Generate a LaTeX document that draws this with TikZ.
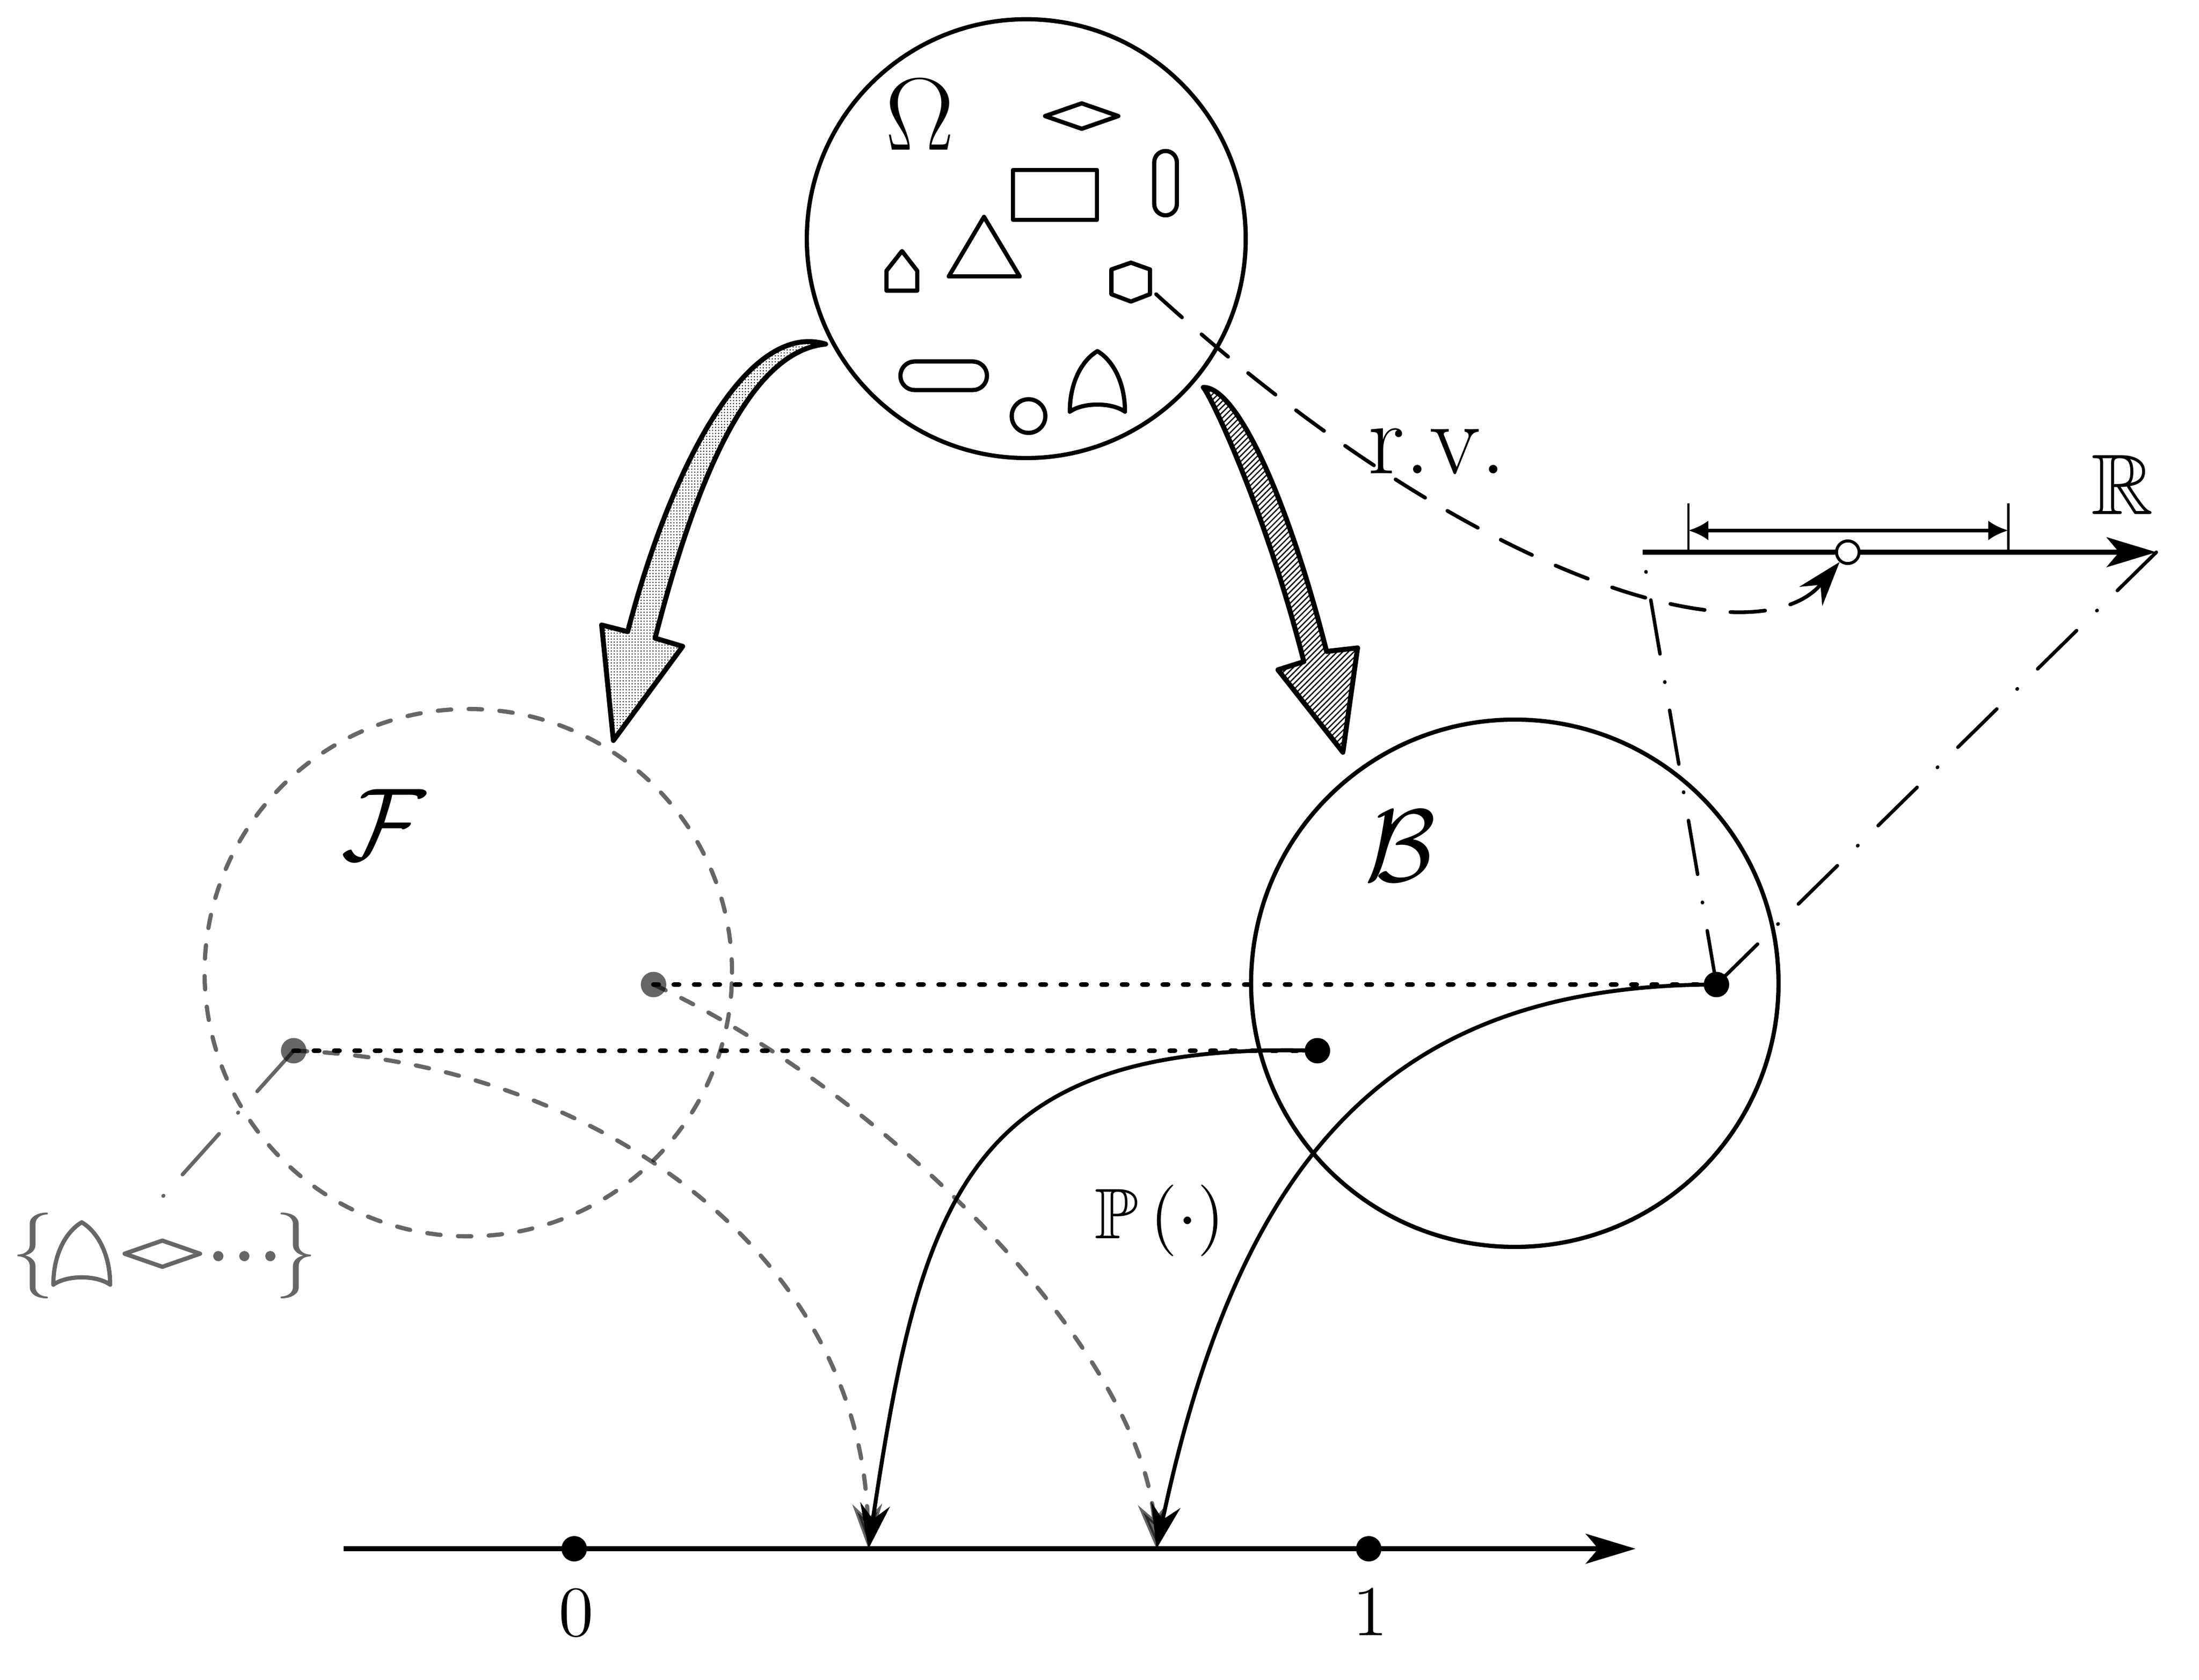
\documentclass[tikz,border=0pt]{standalone}
\usepackage{amssymb}
\usetikzlibrary{arrows.meta,patterns.meta,calc}

\tikzset{
  ptdot/.style={circle,fill,inner sep=0pt,minimum size=0.18cm},
  grayed/.style={opacity=0.6},
  shp/.style={line width=0.85pt,line join=round},
  dotline/.style={line width=1pt,line cap=round,dash pattern=on 1pt off 3.1pt},
  gdash/.style={grayed,line width=0.85pt,line cap=round,dash pattern=on 2.7pt off 3.5pt},
  rvline/.style={line width=0.75pt,line cap=round,dash pattern=on 7pt off 5.2pt},
  projline/.style={line width=0.7pt,line cap=round,dash pattern=on 11pt off 5.7pt on 0.1pt off 5.7pt},
  axisline/.style={line width=1pt,-{Stealth[length=10pt,width=6pt,inset=2.5pt]}},
  pmap/.style={line width=0.8pt,-{Stealth[length=9pt,width=6pt,inset=3pt]}},
  bigarrow/.style={line width=1pt,line join=round},
  arch/.pic={\draw (-0.195,0) .. controls (-0.195,0.22) and (-0.1,0.37) .. (0,0.428)
      .. controls (0.1,0.37) and (0.195,0.22) .. (0.195,0)
      .. controls (0.1,0.067) and (-0.1,0.067) .. (-0.195,0) -- cycle;},
  rhomb/.pic={\draw (-0.259,0) -- (0,0.09) -- (0.259,0) -- (0,-0.09) -- cycle;}
}

\begin{document}
\begin{tikzpicture}
  \useasboundingbox (0,0) rectangle (15.552,11.88);

  % sample space
  \node[draw,circle,shp,minimum size=3.104cm] (Om) at (7.258,10.192) {};
  \node (lOm) at (6.504,11.07) {\huge $\Omega$};
  \pic[shp] at (7.650,11.059) {rhomb};
  \draw[shp] (7.164,10.325) rectangle (7.758,10.678);
  \draw[shp,rounded corners=0.08cm] (8.163,10.357) rectangle (8.323,10.812);
  \draw[shp] (6.710,9.925) -- (6.959,10.346) -- (7.211,9.925) -- cycle;
  \draw[shp] (6.269,9.824) -- (6.269,9.964) -- (6.379,10.104) -- (6.487,9.964) -- (6.487,9.824) -- cycle;
  \draw[shp] (7.860,9.799) -- (7.860,9.974) -- (7.998,10.022) -- (8.133,9.974) -- (8.133,9.799) -- (7.998,9.747) -- cycle;
  \draw[shp,rounded corners=0.1cm] (6.368,9.121) rectangle (6.980,9.323);
  \draw[shp] (7.274,8.937) circle (0.119);
  \pic[shp] at (7.761,8.968) {arch};

  % sigma algebras
  \node[draw,circle,gdash,minimum size=3.73cm] (Fsig) at (3.312,5.000) {};
  \node (lF) at (2.713,6.046) {\huge $\mathcal{F}$};
  \node[draw,circle,shp,minimum size=3.73cm] (Bsig) at (10.713,4.925) {};
  \node (lB) at (9.904,5.897) {\huge $\mathcal{B}$};

  % the two thick arrows
  \draw[bigarrow,pattern={Dots[distance=0.6pt,radius=0.13pt]}] (5.839,9.446)
    .. controls (5.292,9.612) and (4.752,8.604) .. (4.439,7.412) -- (4.255,7.459) -- (4.338,6.642)
    -- (4.828,7.308) -- (4.633,7.366) .. controls (4.914,8.460) and (5.292,9.396) .. (5.839,9.446) -- cycle;
  \draw[bigarrow,pattern={Lines[angle=45,distance=0.8pt,line width=0.25pt]}] (8.510,9.140)
    .. controls (8.748,9.144) and (9.108,8.352) .. (9.382,7.272) -- (9.601,7.297) -- (9.497,6.559)
    -- (9.038,7.142) -- (9.221,7.200) .. controls (8.946,8.280) and (8.568,9.072) .. (8.510,9.140) -- cycle;

  % events
  \node[ptdot,grayed] (Fr) at (4.622,4.916) {};
  \node[ptdot,grayed] (Fl) at (2.077,4.448) {};
  \node[ptdot] (Bl) at (9.317,4.448) {};
  \node[ptdot] (Br) at (12.139,4.916) {};

  % unit interval
  \coordinate (o1) at (2.430,0.925);
  \coordinate (o2) at (11.567,0.925);
  \draw[axisline] (o1) -- (o2);
  \node[ptdot] (d0) at (4.061,0.925) {};
  \node[ptdot] (d1) at (9.680,0.925) {};
  \node (l0) at (4.075,0.472) {\Large 0};
  \node (l1) at (9.690,0.479) {\Large 1};
  \coordinate (p1) at (6.142,0.925);
  \coordinate (p2) at (8.179,0.925);

  \draw[pmap,gdash] (Fl.center) .. controls (4.140,4.374) and (6.084,3.060) .. (p1);
  \draw[pmap,gdash] (Fr.center) .. controls (6.253,4.158) and (8.064,2.340) .. (p2);
  \draw[dotline] (Fr.center) -- (Br.center);
  \draw[dotline] (Fl.center) -- (Bl.center);
  \draw[pmap] (Bl.center) .. controls (6.840,4.518) and (6.516,3.420) .. (p1);
  \draw[pmap] (Br.center) .. controls (9.900,4.914) and (8.784,3.780) .. (p2);
  \node (lP) at (8.201,3.247) {\Large $\mathbb{P}\left(\cdot\right)$};

  % real line
  \coordinate (r1) at (11.617,7.974);
  \coordinate (r2) at (15.250,7.974);
  \draw[axisline] (r1) -- (r2);
  \node (lR) at (15.008,8.453) {\LARGE $\mathbb{R}$};
  \coordinate (ia) at (11.941,7.974);
  \coordinate (ib) at (14.202,7.974);
  \draw[line width=0.5pt] (ia) -- ++(0,0.346);
  \draw[line width=0.5pt] (ib) -- ++(0,0.346);
  \draw[line width=0.7pt,{Latex[length=4pt,width=4pt]}-{Latex[length=4pt,width=4pt]}] ($(ia)+(0,0.154)$) -- ($(ib)+(0,0.154)$);
  \node[circle,draw,fill=white,line width=0.6pt,inner sep=0pt,minimum size=0.16cm] (om) at (13.068,7.974) {};

  \coordinate (hx) at (8.176,9.799);
  \draw[rvline,-{Stealth[length=9pt,width=6pt,inset=3pt]}] (hx) .. controls (10.440,7.740) and (12.420,7.200) .. (om);
  \node (lrv) at (10.163,8.687) {\huge r.v.};
  \draw[projline] (Br.center) -- (r1);
  \draw[projline] (r2) -- (Br.center);

  % an element of F
  \coordinate (setF) at (1.148,3.413);
  \draw[projline,grayed,line width=0.75pt] (Fl.center) -- (setF);
  \node[grayed] (lbr) at (0.234,2.999) {\fontsize{16}{19}\selectfont $\{$};
  \node[grayed] (rbr) at (2.095,2.999) {\fontsize{16}{19}\selectfont $\}$};
  \pic[shp,grayed,scale=1.03] at (0.578,2.793) {arch};
  \pic[shp,grayed,scale=1.03] at (1.148,3.012) {rhomb};
  \foreach \x in {1.544,1.728,1.912}
    \fill[grayed] (\x,2.995) circle (0.036);

\end{tikzpicture}
\end{document}
